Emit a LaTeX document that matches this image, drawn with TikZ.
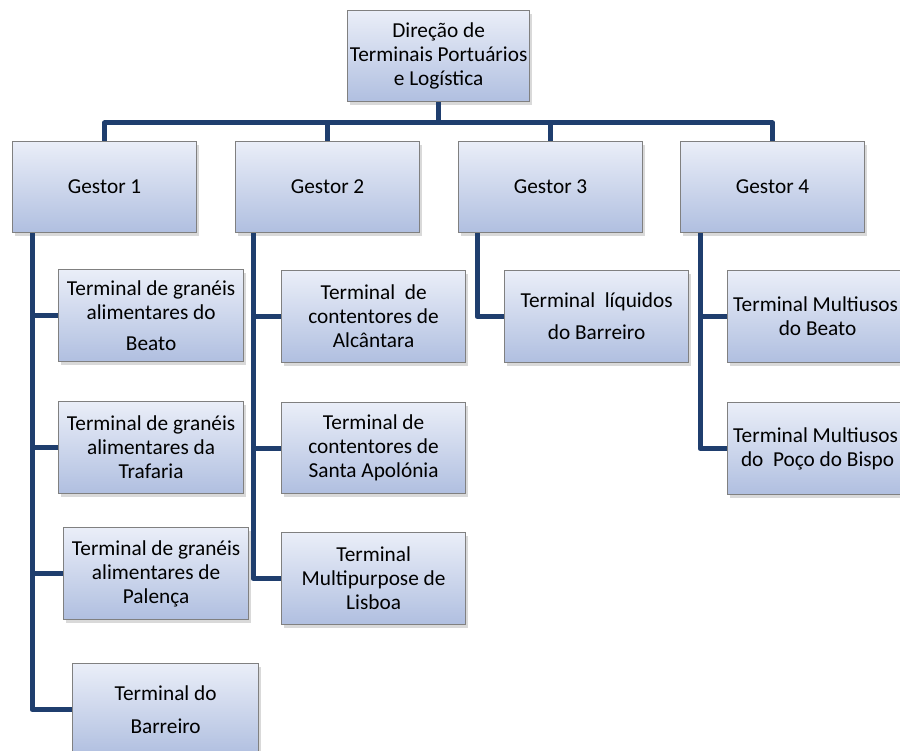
\documentclass[tikz,border=0pt]{standalone}
\usepackage{fontspec}
\setmainfont{Carlito}
\usepackage{tikz}
\usetikzlibrary{calc, positioning, shadows}
\definecolor{orgnavy}{RGB}{31,62,110}
\definecolor{orgtop}{RGB}{234,238,248}
\definecolor{orgbottom}{RGB}{176,191,224}
\definecolor{orgframe}{RGB}{128,128,128}
\tikzset{
  orgbox/.style={rectangle, draw=orgframe, line width=1.2pt, top color=orgtop, bottom color=orgbottom,
    drop shadow={shadow xshift=2pt, shadow yshift=-3pt, opacity=0.3},
    anchor=north west, minimum width=184pt, minimum height=92pt, inner sep=0pt,
    align=center, font=\fontsize{21.3}{24}\selectfont},
  orglink/.style={draw=orgnavy, line width=5pt, line join=round},
}

\begin{document}
\begin{tikzpicture}[x=1pt, y=1pt]
  \useasboundingbox (0,0) rectangle (900,-751);

  % Direction and managers.
  \node[orgbox, minimum width=182pt, minimum height=91pt] (dir) at (347,-10)
    {Direção de\\Terminais Portuários\\e Logística};
  \node[orgbox, minimum height=91pt] (g1) at (12,-141) {Gestor 1};
  \node[orgbox, minimum height=91pt] (g2) at (235,-141) {Gestor 2};
  \node[orgbox, minimum height=91pt] (g3) at (458,-141) {Gestor 3};
  \node[orgbox, minimum height=91pt] (g4) at (680,-141) {Gestor 4};
  \coordinate (bus) at (0,-123);

  % Terminals of each manager.
  \node[orgbox, minimum width=185pt] (t11) at (58,-269) {Terminal de granéis\\alimentares do\\[7pt]Beato};
  \node[orgbox, minimum width=185pt] (t12) at (58,-401) {Terminal de granéis\\alimentares da\\Trafaria};
  \node[orgbox, minimum width=185pt] (t13) at (63,-527) {Terminal de granéis\\alimentares de\\Palença};
  \node[orgbox, minimum width=186pt] (t14) at (72,-663) {Terminal do\\[9pt]Barreiro};

  \node[orgbox] (t21) at (281,-270) {Terminal\ \ de\\contentores de\\Alcântara};
  \node[orgbox, minimum height=91pt] (t22) at (281,-402) {Terminal de\\contentores de\\Santa Apolónia};
  \node[orgbox] (t23) at (281,-532) {Terminal\\Multipurpose de\\Lisboa};

  \node[orgbox] (t31) at (504,-270) {Terminal\ \ líquidos\\[8pt]do Barreiro};

  \node[orgbox, minimum width=180pt] (t41) at (727,-270) {\hspace*{-4pt}Terminal Multiusos\\do Beato};
  \node[orgbox, minimum width=180pt] (t42) at (727,-402) {\hspace*{-4pt}Terminal Multiusos\\do\ \ Poço do Bispo};

  % Connectors.
  \draw[orglink] (dir.south) -- (dir.south |- bus);
  \foreach \g in {g1, g2, g3, g4}
    \draw[orglink] (\g.north) |- (dir.south |- bus);

  \foreach \t in {t11, t12, t13, t14}
    \draw[orglink] ([xshift=20pt]g1.south west) |- (\t.west);
  \foreach \t in {t21, t22, t23}
    \draw[orglink] ([xshift=18pt]g2.south west) |- (\t.west);
  \draw[orglink] ([xshift=19pt]g3.south west) |- (t31.west);
  \foreach \t in {t41, t42}
    \draw[orglink] ([xshift=20pt]g4.south west) |- (\t.west);
\end{tikzpicture}
\end{document}
